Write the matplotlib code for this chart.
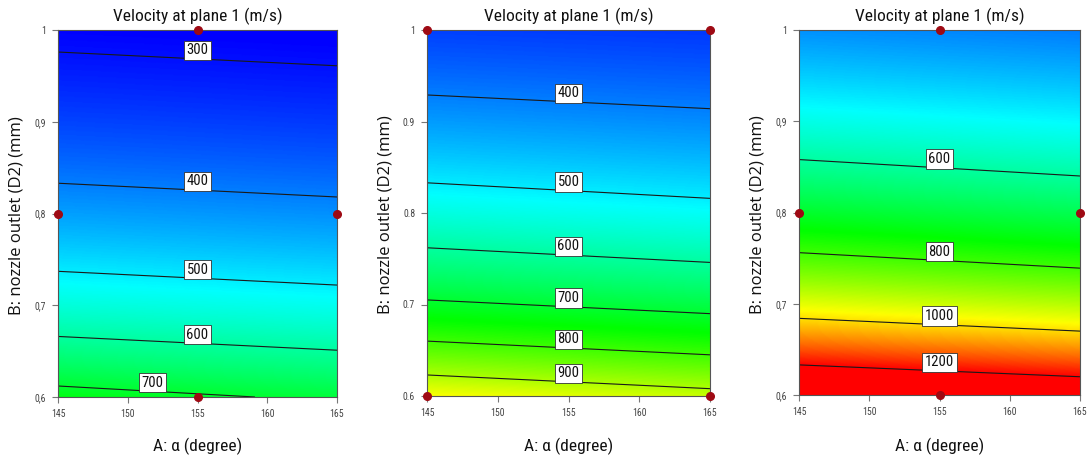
import numpy as np
import matplotlib
matplotlib.use("Agg")
import matplotlib.pyplot as plt
from matplotlib import font_manager
from matplotlib.colors import LinearSegmentedColormap
from matplotlib.font_manager import FontProperties

# ---------------------------------------------------------------- data
A_RANGE = [145, 165]          # A: alpha (degree)
B_RANGE = [0.6, 1.0]          # B: nozzle outlet D2 (mm)
x_ticks = [145, 150, 155, 160, 165]
y_ticks = [0.6, 0.7, 0.8, 0.9, 1.0]
y_labels_comma = ["0,6", "0,7", "0,8", "0,9", "1"]
y_labels_point = ["0.6", "0.7", "0.8", "0.9", "1"]
title = "Velocity at plane 1 (m/s)"
x_label = "A: \u03b1 (degree)"
y_label = "B: nozzle outlet (D2) (mm)"

# contour levels and where each line meets the left (A=145) / right (A=165) edge
p1_levels = [300, 400, 500, 600, 700]
p1_B_left = [0.976, 0.833, 0.737, 0.666, 0.612]
p1_B_right = [0.961, 0.818, 0.722, 0.651, 0.595]
p1_label_A = [155, 155, 155, 155, 151.8]
p1_points_A = [155, 145, 165, 155]
p1_points_B = [1.0, 0.8, 0.8, 0.6]

p2_levels = [400, 500, 600, 700, 800, 900]
p2_B_left = [0.929, 0.833, 0.762, 0.705, 0.660, 0.623]
p2_B_right = [0.914, 0.816, 0.746, 0.690, 0.645, 0.608]
p2_label_A = [155, 155, 155, 155, 155, 155]
p2_points_A = [145, 165, 145, 165]
p2_points_B = [1.0, 1.0, 0.6, 0.6]

p3_levels = [600, 800, 1000, 1200]
p3_B_left = [0.858, 0.756, 0.684, 0.633]
p3_B_right = [0.840, 0.739, 0.670, 0.620]
p3_label_A = [155, 155, 155, 155]
p3_points_A = [155, 145, 165, 155]
p3_points_B = [1.0, 0.8, 0.8, 0.6]

color_min, color_max = 285, 1200

# ---------------------------------------------------------------- fonts
def narrow_font():
    wanted = ["Liberation Sans Narrow", "Roboto Condensed", "Noto Sans Condensed",
              "Open Sans Condensed", "DejaVu Sans Condensed"]
    entries = font_manager.fontManager.ttflist
    for name in wanted:
        for e in entries:
            if e.name == name and e.style == "normal" and str(e.weight) in ("400", "normal", "regular", "book"):
                return e.fname
    for e in entries:
        if "condensed" in str(e.stretch) and e.style == "normal" and str(e.weight) in ("400", "normal", "regular", "book"):
            return e.fname
    return None

NARROW = narrow_font()


def fp(size):
    if NARROW:
        return FontProperties(fname=NARROW, size=size)
    return FontProperties(family="Liberation Sans", size=size * 0.85)


# ---------------------------------------------------------------- colour map
cmap = LinearSegmentedColormap.from_list(
    "rsm", [(0, 0, 1), (0, 1, 1), (0, 1, 0), (1, 1, 0), (1, 0, 0)])


def response_grid(levels, b_left, b_right, a, b):
    """Response surface whose level lines run straight between the edge readings;
    between lines the response varies linearly in 1/B^2."""
    levels = np.asarray(levels, float)
    Z = np.empty((b.size, a.size))
    uq = 1.0 / b ** 2
    for j, av in enumerate(a):
        t = (av - A_RANGE[0]) / (A_RANGE[1] - A_RANGE[0])
        pos = (1 - t) * np.asarray(b_left) + t * np.asarray(b_right)
        u = 1.0 / pos ** 2
        z = np.interp(uq, u, levels)
        lo = uq < u[0]
        hi = uq > u[-1]
        z[lo] = levels[0] + (uq[lo] - u[0]) * (levels[1] - levels[0]) / (u[1] - u[0])
        z[hi] = levels[-1] + (uq[hi] - u[-1]) * (levels[-1] - levels[-2]) / (u[-1] - u[-2])
        Z[:, j] = z
    return Z


fig = plt.figure(figsize=(10.88, 4.62), dpi=100)
fig.patch.set_facecolor("white")

W, H = 1088.0, 462.0
boxes = [(58, 30, 337, 397), (427, 30, 710, 396), (799, 30, 1080, 395)]
panels = [
    (p1_levels, p1_B_left, p1_B_right, p1_label_A, p1_points_A, p1_points_B, y_labels_comma),
    (p2_levels, p2_B_left, p2_B_right, p2_label_A, p2_points_A, p2_points_B, y_labels_point),
    (p3_levels, p3_B_left, p3_B_right, p3_label_A, p3_points_A, p3_points_B, y_labels_comma),
]

a = np.linspace(A_RANGE[0], A_RANGE[1], 241)
b = np.linspace(B_RANGE[0], B_RANGE[1], 401)
AA, BB = np.meshgrid(a, b)

for (x0, y0, x1, y1), (lev, bl, br, lab_a, pa, pb, ylabs) in zip(boxes, panels):
    ax = fig.add_axes([x0 / W, 1 - y1 / H, (x1 - x0) / W, (y1 - y0) / H])
    Z = response_grid(lev, bl, br, a, b)
    ax.pcolormesh(AA, BB, Z, cmap=cmap, vmin=color_min, vmax=color_max,
                  shading="gouraud", rasterized=True)
    ax.contour(AA, BB, Z, levels=lev, colors="#1a1a1a", linewidths=0.8)

    for level, la, l0, r0 in zip(lev, lab_a, bl, br):
        t = (la - A_RANGE[0]) / (A_RANGE[1] - A_RANGE[0])
        yb = (1 - t) * l0 + t * r0
        ax.annotate(str(level), xy=(la, yb), xytext=(0, 1.2), textcoords="offset points",
                    ha="center", va="bottom", fontproperties=fp(10.5), color="#111111",
                    bbox=dict(boxstyle="square,pad=0.18", fc="white", ec="#333333", lw=0.6),
                    zorder=5, annotation_clip=False)

    ax.plot(pa, pb, "o", color="#9e0a14", markersize=5.5, clip_on=False, zorder=6)

    ax.set_xlim(A_RANGE)
    ax.set_ylim(B_RANGE)
    ax.set_xticks(x_ticks)
    ax.set_xticklabels([str(v) for v in x_ticks])
    ax.set_yticks(y_ticks)
    ax.set_yticklabels(ylabs)
    ax.tick_params(direction="out", length=4.5, width=0.8, color="#777777",
                   labelcolor="#444444", pad=4)
    for lbl in ax.get_xticklabels() + ax.get_yticklabels():
        lbl.set_fontproperties(fp(7))
    for s in ax.spines.values():
        s.set_color("#555555")
        s.set_linewidth(0.8)

    cx = (x0 + x1) / 2 / W
    fig.text(cx, 1 - 16 / H, title, ha="center", va="center",
             fontproperties=fp(12.5), color="#111111")
    fig.text(cx, 1 - 446 / H, x_label, ha="center", va="center",
             fontproperties=fp(12.5), color="#111111")
    fig.text((x0 - 41) / W, 1 - ((y0 + y1) / 2 + 2) / H, y_label, rotation=90,
             ha="center", va="center", family="Open Sans", fontsize=12, color="#111111")

fig.savefig("out.png", dpi=100, facecolor="white")
